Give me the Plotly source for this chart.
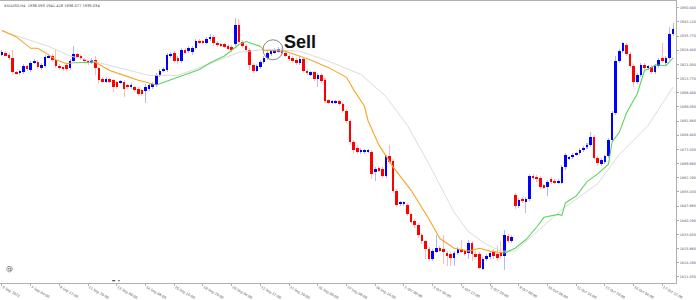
import plotly.graph_objects as go

# ---------------- data (XAUUSD H4) ----------------
opens = [
    1926.4, 1926.9, 1925.9, 1924.4, 1916.9, 1916.4, 1916.9, 1920.4, 1918.4, 1921.9,
    1922.4, 1919.4, 1920.4, 1924.9, 1925.4, 1923.4, 1920.4, 1919.4, 1920.9, 1919.4,
    1922.9, 1926.4, 1925.4, 1923.9, 1922.9, 1921.9, 1923.4, 1919.4, 1913.4, 1912.4,
    1913.4, 1912.9, 1911.9, 1911.9, 1911.9, 1910.4, 1909.4, 1909.4, 1908.4, 1907.9,
    1907.4, 1908.4, 1909.4, 1910.4, 1915.4, 1917.9, 1918.4, 1925.9, 1926.9, 1924.4,
    1922.9, 1928.4, 1927.9, 1927.4, 1929.4, 1933.4, 1932.9, 1932.4, 1934.4, 1935.4,
    1932.4, 1931.4, 1931.4, 1930.4, 1929.9,
    1931.4, 1941.4, 1932.9, 1930.4, 1928.4, 1920.9, 1917.9, 1919.9, 1922.4, 1924.4,
    1926.4, 1927.4, 1927.9, 1928.4, 1926.9, 1925.4, 1924.4, 1923.4, 1921.9, 1923.9,
    1917.9, 1915.9, 1916.9, 1913.4, 1915.4, 1912.9, 1902.4, 1901.4, 1901.4, 1901.9,
    1900.4, 1896.9, 1891.9, 1880.9, 1877.9, 1875.9, 1875.9, 1875.9, 1875.9, 1865.4,
    1867.4, 1866.9, 1863.4, 1873.4, 1870.9, 1855.4, 1848.9, 1848.9, 1848.4, 1843.4,
    1839.9, 1837.9, 1832.9, 1829.4, 1825.4, 1820.4, 1823.9, 1825.9, 1825.4, 1823.4,
    1822.9, 1820.9, 1823.4, 1825.4, 1824.4, 1823.4, 1828.4, 1822.9, 1822.9, 1815.4,
    1820.4, 1821.4, 1824.4, 1822.9, 1823.4, 1821.9, 1832.4, 1829.4,
    1853.4, 1847.9, 1851.4, 1849.9, 1851.4, 1863.4, 1862.9, 1862.4, 1858.4, 1857.4,
    1861.9, 1860.9, 1859.9, 1859.9, 1867.9, 1872.4, 1872.9, 1874.4, 1875.4, 1876.9,
    1878.4, 1879.4, 1883.4, 1872.4, 1869.4, 1870.4, 1873.4, 1881.9, 1895.9, 1922.9,
    1927.9, 1930.9, 1926.4, 1920.4, 1911.9, 1915.4, 1920.9, 1919.4, 1919.9, 1916.9,
    1920.4, 1924.4, 1921.9, 1924.4, 1936.9,
]
closes = [
    1927.4, 1925.9, 1924.4, 1916.9, 1916.4, 1917.9, 1920.4, 1918.9, 1921.9, 1922.9,
    1919.9, 1920.9, 1924.9, 1925.4, 1923.4, 1920.4, 1919.4, 1918.9, 1918.9, 1922.9,
    1926.4, 1925.4, 1923.9, 1922.9, 1921.9, 1923.4, 1919.4, 1912.9, 1912.4, 1913.4,
    1912.4, 1909.4, 1909.4, 1912.4, 1908.4, 1909.4, 1910.4, 1907.9, 1905.9, 1905.9,
    1909.4, 1910.4, 1910.9, 1915.4, 1917.9, 1918.9, 1925.9, 1926.4, 1922.9, 1922.9,
    1928.4, 1927.4, 1929.4, 1929.4, 1933.4, 1932.4, 1932.4, 1934.4, 1935.4, 1931.9,
    1930.9, 1930.9, 1930.4, 1929.4, 1928.4,
    1941.4, 1932.9, 1930.4, 1928.4, 1920.9, 1917.9, 1920.4, 1922.4, 1924.4, 1926.9,
    1927.9, 1928.4, 1928.9, 1926.9, 1925.9, 1923.9, 1922.9, 1921.9, 1923.9, 1917.9,
    1916.4, 1916.9, 1913.4, 1915.4, 1912.4, 1901.9, 1901.4, 1901.9, 1901.9, 1900.4,
    1896.9, 1891.9, 1880.9, 1876.9, 1875.9, 1876.9, 1876.4, 1876.4, 1864.4, 1866.9,
    1866.4, 1863.4, 1873.4, 1870.4, 1855.4, 1848.4, 1849.4, 1849.4, 1843.4, 1839.4,
    1837.9, 1832.9, 1829.4, 1825.4, 1820.4, 1824.4, 1825.9, 1824.9, 1824.4, 1821.9,
    1820.9, 1823.4, 1825.4, 1824.4, 1823.4, 1828.4, 1822.9, 1821.4, 1815.9, 1820.4,
    1821.9, 1823.4, 1821.9, 1820.9, 1821.9, 1832.9, 1829.4, 1831.9,
    1847.9, 1850.9, 1850.4, 1851.4, 1863.4, 1862.4, 1861.9, 1857.4, 1857.4, 1860.4,
    1860.4, 1859.9, 1860.9, 1867.9, 1874.4, 1872.9, 1874.4, 1874.9, 1876.9, 1877.9,
    1879.4, 1883.4, 1872.4, 1869.9, 1871.4, 1873.4, 1881.9, 1895.9, 1922.9, 1927.9,
    1931.9, 1926.4, 1920.4, 1911.9, 1915.4, 1920.9, 1919.4, 1919.9, 1916.9, 1920.4,
    1923.4, 1922.9, 1924.4, 1936.9, 1939.4,
]
highs = [
    1928.4, 1927.9, 1926.9, 1928.4, 1917.9, 1918.4, 1921.4, 1920.9, 1922.9, 1923.9,
    1923.4, 1921.9, 1925.9, 1926.4, 1926.4, 1928.4, 1921.4, 1919.9, 1921.4, 1923.9,
    1930.4, 1926.9, 1925.9, 1924.4, 1923.4, 1924.4, 1925.4, 1919.9, 1914.4, 1914.4,
    1913.9, 1913.4, 1912.4, 1912.9, 1912.9, 1910.9, 1911.4, 1909.9, 1909.4, 1908.4,
    1910.9, 1911.4, 1911.9, 1916.4, 1918.9, 1919.9, 1926.9, 1927.4, 1927.9, 1925.4,
    1929.4, 1929.4, 1930.4, 1930.4, 1934.4, 1934.4, 1933.9, 1935.4, 1936.9, 1936.4,
    1933.4, 1932.4, 1931.9, 1931.4, 1930.9,
    1944.9, 1944.4, 1933.9, 1931.4, 1929.4, 1921.9, 1921.4, 1923.4, 1925.4, 1927.9,
    1928.9, 1929.4, 1929.9, 1929.4, 1927.9, 1926.4, 1925.4, 1924.4, 1924.9, 1924.9,
    1918.9, 1917.9, 1917.9, 1916.4, 1916.4, 1913.9, 1903.4, 1902.9, 1902.9, 1902.9,
    1901.4, 1897.9, 1892.9, 1881.9, 1879.4, 1877.9, 1877.4, 1877.4, 1876.9, 1867.9,
    1868.4, 1867.9, 1874.4, 1879.4, 1871.9, 1856.4, 1850.4, 1850.4, 1849.4, 1844.4,
    1840.9, 1838.9, 1833.9, 1830.4, 1826.4, 1825.4, 1832.9, 1826.9, 1832.9, 1824.4,
    1823.9, 1824.4, 1826.4, 1830.4, 1825.4, 1830.4, 1829.4, 1824.4, 1823.9, 1821.4,
    1822.9, 1824.4, 1825.4, 1826.9, 1829.4, 1835.4, 1833.4, 1832.9,
    1854.4, 1851.9, 1852.4, 1852.4, 1864.4, 1864.4, 1863.9, 1863.4, 1859.4, 1861.4,
    1862.9, 1861.9, 1861.9, 1868.9, 1875.4, 1873.9, 1875.4, 1875.9, 1877.9, 1878.9,
    1880.4, 1885.9, 1884.4, 1873.4, 1872.4, 1874.4, 1882.9, 1896.9, 1925.4, 1928.9,
    1932.9, 1931.9, 1927.4, 1921.4, 1916.4, 1921.9, 1921.9, 1920.9, 1920.9, 1921.4,
    1924.4, 1931.9, 1925.4, 1940.4, 1942.4,
]
lows = [
    1925.4, 1924.9, 1923.4, 1915.4, 1915.4, 1915.4, 1915.9, 1917.9, 1917.4, 1921.4,
    1918.9, 1918.4, 1919.4, 1924.4, 1922.4, 1919.4, 1918.4, 1917.9, 1917.9, 1918.4,
    1922.4, 1924.4, 1923.4, 1921.9, 1920.9, 1921.4, 1915.4, 1911.4, 1911.4, 1911.4,
    1911.4, 1906.9, 1908.4, 1910.9, 1904.4, 1908.4, 1908.4, 1906.9, 1904.9, 1904.9,
    1900.9, 1907.4, 1908.4, 1909.4, 1914.4, 1916.9, 1917.4, 1924.4, 1921.9, 1921.4,
    1921.9, 1926.4, 1926.9, 1925.9, 1928.4, 1931.4, 1931.4, 1931.4, 1933.4, 1930.4,
    1929.9, 1929.9, 1929.4, 1928.4, 1927.4,
    1930.4, 1931.9, 1929.4, 1927.4, 1918.4, 1916.4, 1916.9, 1918.9, 1921.4, 1923.4,
    1925.4, 1926.4, 1926.9, 1925.9, 1924.9, 1922.9, 1921.9, 1920.9, 1920.9, 1916.9,
    1915.4, 1914.9, 1912.4, 1909.4, 1911.4, 1900.9, 1900.4, 1900.4, 1900.4, 1899.4,
    1895.9, 1890.9, 1879.4, 1875.4, 1874.9, 1874.9, 1874.9, 1875.4, 1861.9, 1860.9,
    1865.4, 1862.4, 1862.4, 1869.4, 1854.4, 1847.4, 1847.9, 1847.9, 1842.4, 1838.4,
    1836.4, 1831.4, 1827.9, 1820.4, 1819.4, 1819.4, 1823.4, 1823.9, 1817.9, 1816.9,
    1816.9, 1816.9, 1822.4, 1823.4, 1821.9, 1820.4, 1819.4, 1820.4, 1814.9, 1814.4,
    1819.4, 1820.4, 1820.4, 1819.4, 1820.4, 1814.4, 1828.4, 1828.4,
    1846.4, 1846.9, 1849.4, 1844.4, 1850.4, 1861.4, 1860.4, 1856.4, 1856.4, 1852.9,
    1859.4, 1858.9, 1858.9, 1858.9, 1866.4, 1871.4, 1871.9, 1873.4, 1874.4, 1875.9,
    1877.4, 1878.4, 1871.4, 1868.4, 1868.4, 1869.4, 1872.4, 1880.9, 1894.9, 1921.9,
    1926.9, 1925.4, 1919.4, 1909.4, 1910.9, 1914.4, 1918.4, 1918.4, 1915.9, 1915.9,
    1919.4, 1921.9, 1920.9, 1923.4, 1935.9,
]

# fast moving average (bar index, value) - orange while falling, green while rising
ma_fast_bar = [0, 4, 8, 10, 13, 15, 18, 20, 26, 30, 34, 38, 43, 49, 55, 58, 62, 66, 68, 72,
               73, 79, 83, 86, 91, 96, 98, 101, 102, 105, 109, 114, 119, 122, 126, 130, 133,
               136, 140, 143, 146, 149, 151, 155, 156, 157, 160, 163, 166, 168, 169, 170,
               172, 174, 177, 179, 181, 182, 185, 187]
ma_fast_val = [1938.6, 1935.3, 1929.4, 1929.4, 1926.0, 1923.5, 1921.4, 1921.9, 1922.2, 1917.9,
               1915.4, 1912.9, 1910.4, 1914.4, 1918.4, 1921.9, 1925.4, 1931.4, 1932.9, 1930.4,
               1928.4, 1927.9, 1925.4, 1923.4, 1919.4, 1914.4, 1907.9, 1899.4, 1891.9, 1879.4,
               1867.9, 1855.9, 1840.9, 1830.9, 1825.9, 1824.4, 1825.9, 1824.4, 1823.4, 1825.9,
               1830.4, 1836.9, 1841.9, 1843.4, 1842.9, 1849.4, 1852.9, 1860.4, 1864.4, 1867.9,
               1869.4, 1880.9, 1885.9, 1895.9, 1905.9, 1917.9, 1919.4, 1920.9, 1920.4, 1924.4]
# bar indices where the fast MA colour flips (starting orange)
ma_fast_flips = [20, 26, 43, 72, 140]

# slow moving average (light grey)
ma_slow_bar = [0, 13, 19, 25, 41, 49, 58, 66, 74, 83, 90, 100, 107, 113, 119, 126, 130, 135,
               139, 143, 146, 156, 166, 172, 180, 187]
ma_slow_val = [1938.4, 1930.4, 1925.4, 1922.9, 1915.4, 1915.4, 1921.4, 1927.4, 1928.9, 1927.9,
               1923.4, 1915.9, 1904.4, 1889.4, 1869.4, 1844.4, 1834.4, 1827.9, 1824.4, 1824.4,
               1829.4, 1845.9, 1859.4, 1874.4, 1889.4, 1909.4]

x_tick_bars = list(range(0, 188, 8))
x_tick_text = ["6 Sep 2023", "7 Sep 04:00", "8 Sep 12:00", "11 Sep 20:00", "13 Sep 00:00",
               "14 Sep 08:00", "15 Sep 16:00", "18 Sep 20:00", "20 Sep 04:00", "21 Sep 12:00",
               "22 Sep 20:00", "26 Sep 00:00", "27 Sep 08:00", "28 Sep 16:00", "2 Oct 00:00",
               "3 Oct 04:00", "4 Oct 12:00", "5 Oct 20:00", "9 Oct 00:00", "10 Oct 08:00",
               "11 Oct 16:00", "12 Oct 20:00", "16 Oct 04:00", "17 Oct 12:00"]
y_tick_vals = [1950.40, 1943.12, 1935.77, 1928.40, 1921.05, 1913.77, 1906.40, 1899.05,
               1891.68, 1884.40, 1877.03, 1869.66, 1862.29, 1855.03, 1847.66, 1840.29,
               1833.03, 1825.66, 1818.29, 1811.03]

title_text = "XAUUSD,H4  1936.093 1941.418 1936.077 1939.034"
sell_bar = 75.5
sell_price = 1928.65

# ---------------- figure ----------------
n = len(opens)
assert len(closes) == n and len(highs) == n and len(lows) == n
bars = list(range(n))
is_up = [c >= o for o, c in zip(opens, closes)]
body_base = [min(o, c) for o, c in zip(opens, closes)]
body_h = [max(abs(c - o), 0.5) for o, c in zip(opens, closes)]
wick_h = [h - l for h, l in zip(highs, lows)]
BLUE, RED = "#0000ff", "#ff0000"
body_col = [BLUE if u else RED for u in is_up]
wick_col = ["rgba(90,90,255,0.45)" if u else "rgba(255,80,80,0.40)" for u in is_up]

fig = go.Figure()
fig.add_trace(go.Bar(x=bars, y=wick_h, base=lows, width=0.28,
                     marker=dict(color=wick_col, line=dict(width=0)), hoverinfo="skip"))
fig.add_trace(go.Bar(x=bars, y=body_h, base=body_base, width=0.72,
                     marker=dict(color=body_col, line=dict(width=0)), hoverinfo="skip"))

fig.add_trace(go.Scatter(x=ma_slow_bar, y=ma_slow_val, mode="lines",
                         line=dict(color="#dcdcdc", width=1), hoverinfo="skip"))

# split fast MA into coloured segments
cuts = [ma_fast_bar[0]] + ma_fast_flips + [ma_fast_bar[-1]]
for k in range(len(cuts) - 1):
    a, b = cuts[k], cuts[k + 1]
    xs = [bx for bx in ma_fast_bar if a <= bx <= b]
    ys = [v for bx, v in zip(ma_fast_bar, ma_fast_val) if a <= bx <= b]
    col = "#f5a623" if k % 2 == 0 else "#5fd35f"
    fig.add_trace(go.Scatter(x=xs, y=ys, mode="lines",
                             line=dict(color=col, width=1.1), hoverinfo="skip"))

# Sell marker
fig.add_shape(type="circle", xref="x", yref="y", xsizemode="pixel", ysizemode="pixel",
              xanchor=sell_bar, yanchor=sell_price, x0=-10, x1=10, y0=-10, y1=10,
              line=dict(color="#8a8a8a", width=1))
fig.add_annotation(x=sell_bar, y=sell_price, xref="x", yref="y", text="<b>Sell</b>",
                   showarrow=False, xshift=27, yshift=7.5,
                   font=dict(family="Liberation Sans", size=18, color="#111111"))

# title text
fig.add_annotation(x=0.003, y=1.0, xref="paper", yref="paper", text=title_text,
                   showarrow=False, xanchor="left", yanchor="top", yshift=-1,
                   font=dict(family="DejaVu Sans", size=3.6, color="#444444"))
# small marks
fig.add_annotation(x=0.006, y=0.03, xref="paper", yref="paper", text="@",
                   showarrow=False, font=dict(family="DejaVu Sans", size=7, color="#555555"))
fig.add_shape(type="line", xref="paper", yref="paper", x0=0.166, x1=0.177, y0=0.008, y1=0.008,
              line=dict(color="#222222", width=1.2, dash="dot"))

fig.update_layout(
    width=696, height=300,
    margin=dict(l=0, r=16, t=1, b=7),
    paper_bgcolor="white", plot_bgcolor="white",
    barmode="overlay", bargap=0, showlegend=False,
    font=dict(family="DejaVu Sans", size=3.5, color="#555555"),
    xaxis=dict(range=[-0.554, 187.8], tickmode="array", tickvals=x_tick_bars,
               ticktext=x_tick_text, ticklabelposition="outside right",
               tickfont=dict(size=3.4, color="#555555"),
               showline=True, linecolor="#b0b0b0", linewidth=1, mirror=True,
               ticks="outside", ticklen=2, tickcolor="#b0b0b0",
               showgrid=False, zeroline=False, fixedrange=True),
    yaxis=dict(range=[1807.9, 1953.9], side="right", tickmode="array",
               tickvals=y_tick_vals, ticktext=["%.3f" % v for v in y_tick_vals],
               tickfont=dict(size=3.4, color="#555555"),
               showline=True, linecolor="#b0b0b0", linewidth=1,
               ticks="outside", ticklen=2, tickcolor="#b0b0b0",
               showgrid=False, zeroline=False, fixedrange=True),
)

fig.write_html("out.html")
